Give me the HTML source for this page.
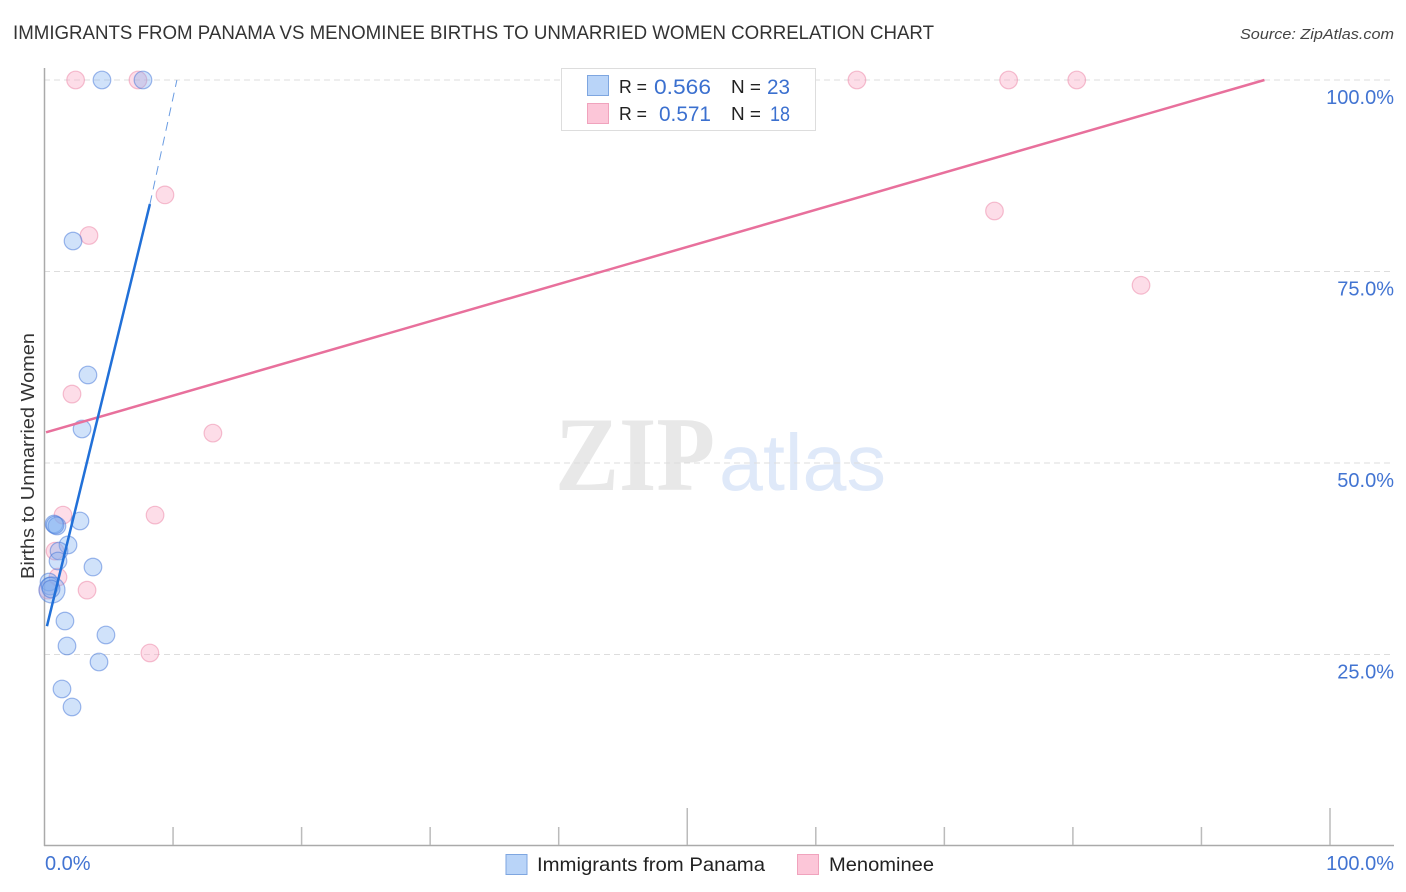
<!DOCTYPE html>
<html lang="en">
<head>
<meta charset="utf-8">
<title>Immigrants from Panama vs Menominee Births to Unmarried Women Correlation Chart</title>
<style>
html,body{margin:0;padding:0;background:#fff;width:1406px;height:892px;overflow:hidden}
svg{display:block;font-family:"Liberation Sans",sans-serif}
</style>
</head>
<body>
<svg id="chart" xmlns="http://www.w3.org/2000/svg" width="1406" height="892" viewBox="0 0 1406 892">
  <text x="13" y="39" font-size="19.5" fill="#333" textLength="921" lengthAdjust="spacingAndGlyphs">IMMIGRANTS FROM PANAMA VS MENOMINEE BIRTHS TO UNMARRIED WOMEN CORRELATION CHART</text>
  <text x="1394" y="39" font-size="15" font-style="italic" fill="#444" text-anchor="end" textLength="154" lengthAdjust="spacingAndGlyphs">Source: ZipAtlas.com</text>
  <g>
    <text x="555" y="490" font-family="'Liberation Serif',serif" font-size="106" font-weight="bold" fill="#e8e8e8" textLength="160" lengthAdjust="spacingAndGlyphs">ZIP</text>
    <text x="719" y="490" font-size="80" fill="#dfe9f9" textLength="167" lengthAdjust="spacingAndGlyphs">atlas</text>
  </g>
  <g id="grid"></g>
  <g id="axes"></g>
  <g id="points-pink"></g>
  <g id="points-blue"></g>
  <g id="trends"></g>
  <text transform="translate(34 456) rotate(-90)" font-size="18.5" fill="#333" text-anchor="middle" textLength="246" lengthAdjust="spacingAndGlyphs">Births to Unmarried Women</text>
  <g id="ticklabels"></g>

  <g>
    <rect x="561.5" y="68.5" width="254" height="62" fill="#fff" stroke="#ddd" stroke-width="1"/>
    <rect x="587.5" y="75.5" width="21" height="20" fill="#b9d4f8" stroke="#7ea6e0"/>
    <rect x="587.5" y="103.5" width="21" height="20" fill="#fcc6d8" stroke="#f0a3bd"/>
    <g font-size="18.5" fill="#222">
      <text x="619" y="93" textLength="28" lengthAdjust="spacingAndGlyphs">R =</text>
      <text x="731" y="93" textLength="30" lengthAdjust="spacingAndGlyphs">N =</text>
      <text x="619" y="120" textLength="28" lengthAdjust="spacingAndGlyphs">R =</text>
      <text x="731" y="120" textLength="30" lengthAdjust="spacingAndGlyphs">N =</text>
    </g>
    <g font-size="21" fill="#3b70cf">
      <text x="654" y="94" textLength="57" lengthAdjust="spacingAndGlyphs">0.566</text>
      <text x="767" y="94" textLength="23" lengthAdjust="spacingAndGlyphs">23</text>
      <text x="659" y="121" textLength="52" lengthAdjust="spacingAndGlyphs">0.571</text>
      <text x="770" y="121" textLength="20" lengthAdjust="spacingAndGlyphs">18</text>
    </g>
  </g>

  <g>
    <rect x="506" y="854.5" width="21" height="20" fill="#b9d4f8" stroke="#7ea6e0"/>
    <text x="537" y="871" font-size="19.5" fill="#222" textLength="228" lengthAdjust="spacingAndGlyphs">Immigrants from Panama</text>
    <rect x="797.5" y="854.5" width="21" height="20" fill="#fcc6d8" stroke="#f0a3bd"/>
    <text x="829" y="871" font-size="19.5" fill="#222" textLength="105" lengthAdjust="spacingAndGlyphs">Menominee</text>
  </g>
</svg>
<script>
// ---- Chart data (percent values) ----
const panamaX = [4.47,7.66,2.22,3.38,2.92,2.76,0.74,0.97,0.82,1.83,1.13,1.05,3.77,1.59,4.78,1.75,4.24,1.36,2.14,0.35,0.43,0.58,0.51];
const panamaY = [100,100,78.98,61.49,54.44,42.43,42.04,41.78,41.91,39.3,38.51,37.21,36.42,29.37,27.55,26.11,24.02,20.5,18.15,34.46,33.94,33.42,33.55];
const panamaWeight = [1,1,1,1,1,1,1,1,1,1,1,1,1,1,1,1,1,1,1,1,1,2,1];
const menomineeX = [2.42,7.27,63.2,75.0,80.3,9.37,73.9,85.3,3.46,2.14,13.1,8.6,1.44,0.82,1.05,3.31,8.2,0.27];
const menomineeY = [100,100,100,100,100,85.0,82.9,73.2,79.7,59.0,53.9,43.2,43.2,38.5,35.1,33.4,25.2,33.4];
const menomineeWeight = [1,1,1,1,1,1,1,1,1,1,1,1,1,1,1,1,1,1];
const panamaTrendSolid = [[0.19,28.7],[8.2,83.8]];
const panamaTrendDashed = [[8.2,83.8],[10.3,100]];
const menomineeTrend = [[0.12,54.0],[94.9,100]];
const yTickValues = [100,75,50,25];
const yTickLabels = ["100.0%","75.0%","50.0%","25.0%"];
const xTickValues = [10,20,30,40,50,60,70,80,90,100];
const xTickLabels = ["0.0%","100.0%"];

// ---- Axis functions ----
function xScale(v){ return 44.5 + v * 12.855; }
function yScale(v){ return 846 - v * 7.66; }

const NS = "http://www.w3.org/2000/svg";
function make(tag, parentId){
  const el = document.createElementNS(NS, tag);
  document.getElementById(parentId).appendChild(el);
  return el;
}

// Gridlines
yTickValues.forEach(function(v){
  const l = make("line","grid");
  
  
  l.setAttribute("x1",44); l.setAttribute("x2",1393);
  l.setAttribute("y1",yScale(v)); l.setAttribute("y2",yScale(v));
  l.setAttribute("stroke","#ddd"); l.setAttribute("stroke-width","1");
  l.setAttribute("stroke-dasharray","6 4");
});

// Axes
const yAxis = make("line","axes");


yAxis.setAttribute("x1",44.5); yAxis.setAttribute("x2",44.5);
yAxis.setAttribute("y1",68); yAxis.setAttribute("y2",846);
yAxis.setAttribute("stroke","#aaa"); yAxis.setAttribute("stroke-width","1.5");

const xAxis = make("line","axes");


xAxis.setAttribute("x1",44); xAxis.setAttribute("x2",1394);
xAxis.setAttribute("y1",845.5); xAxis.setAttribute("y2",845.5);
xAxis.setAttribute("stroke","#aaa"); xAxis.setAttribute("stroke-width","1.5");

xTickValues.forEach(function(v){
  const t = make("line","axes");
  
  
  t.setAttribute("x1",xScale(v)); t.setAttribute("x2",xScale(v));
  t.setAttribute("y1",(v % 50 === 0) ? 808 : 827); t.setAttribute("y2",845);
  t.setAttribute("stroke","#bbb"); t.setAttribute("stroke-width","1.5");
});

// Tick labels
yTickValues.forEach(function(v,i){
  const t = make("text","ticklabels");
  
  
  t.setAttribute("x",1394); t.setAttribute("y",yScale(v)+24);
  t.setAttribute("text-anchor","end"); t.setAttribute("font-size","20");
  t.setAttribute("fill","#4274d2");
  t.textContent = yTickLabels[i];
});
xTickLabels.forEach(function(s,i){
  const t = make("text","ticklabels");
  
  
  t.setAttribute("x", i === 0 ? 45 : 1394); t.setAttribute("y",870);
  t.setAttribute("text-anchor", i === 0 ? "start" : "end");
  t.setAttribute("font-size","20"); t.setAttribute("fill","#4274d2");
  t.textContent = s;
});

// Points
function radius(w){ return w > 1 ? 13 : 8.8; }
menomineeX.forEach(function(v,i){
  const c = make("circle","points-pink");
  
  
  c.setAttribute("cx",xScale(v)); c.setAttribute("cy",yScale(menomineeY[i]));
  c.setAttribute("r",radius(menomineeWeight[i]));
  c.setAttribute("fill","rgba(250,175,200,0.42)");
  c.setAttribute("stroke","rgba(236,140,172,0.55)"); c.setAttribute("stroke-width","1.2");
});
panamaX.forEach(function(v,i){
  const c = make("circle","points-blue");
  
  
  c.setAttribute("cx",xScale(v)); c.setAttribute("cy",yScale(panamaY[i]));
  c.setAttribute("r",radius(panamaWeight[i]));
  c.setAttribute("fill","rgba(125,175,240,0.36)");
  c.setAttribute("stroke","rgba(65,115,215,0.5)"); c.setAttribute("stroke-width","1.2");
});

// Trend lines
const pinkLine = make("line","trends");


pinkLine.setAttribute("x1",xScale(menomineeTrend[0][0])); pinkLine.setAttribute("y1",yScale(menomineeTrend[0][1]));
pinkLine.setAttribute("x2",xScale(menomineeTrend[1][0])); pinkLine.setAttribute("y2",yScale(menomineeTrend[1][1]));
pinkLine.setAttribute("stroke","#e8709c"); pinkLine.setAttribute("stroke-width","2.5");

const blueSolid = make("line","trends");


blueSolid.setAttribute("x1",xScale(panamaTrendSolid[0][0])); blueSolid.setAttribute("y1",yScale(panamaTrendSolid[0][1]));
blueSolid.setAttribute("x2",xScale(panamaTrendSolid[1][0])); blueSolid.setAttribute("y2",yScale(panamaTrendSolid[1][1]));
blueSolid.setAttribute("stroke","#2170d8"); blueSolid.setAttribute("stroke-width","2.5");

const blueDash = make("line","trends");


blueDash.setAttribute("x1",xScale(panamaTrendDashed[0][0])); blueDash.setAttribute("y1",yScale(panamaTrendDashed[0][1]));
blueDash.setAttribute("x2",xScale(panamaTrendDashed[1][0])); blueDash.setAttribute("y2",yScale(panamaTrendDashed[1][1]));
blueDash.setAttribute("stroke","#6a9ce2"); blueDash.setAttribute("stroke-width","1");
blueDash.setAttribute("stroke-dasharray","9 6");
</script>
</body>
</html>
